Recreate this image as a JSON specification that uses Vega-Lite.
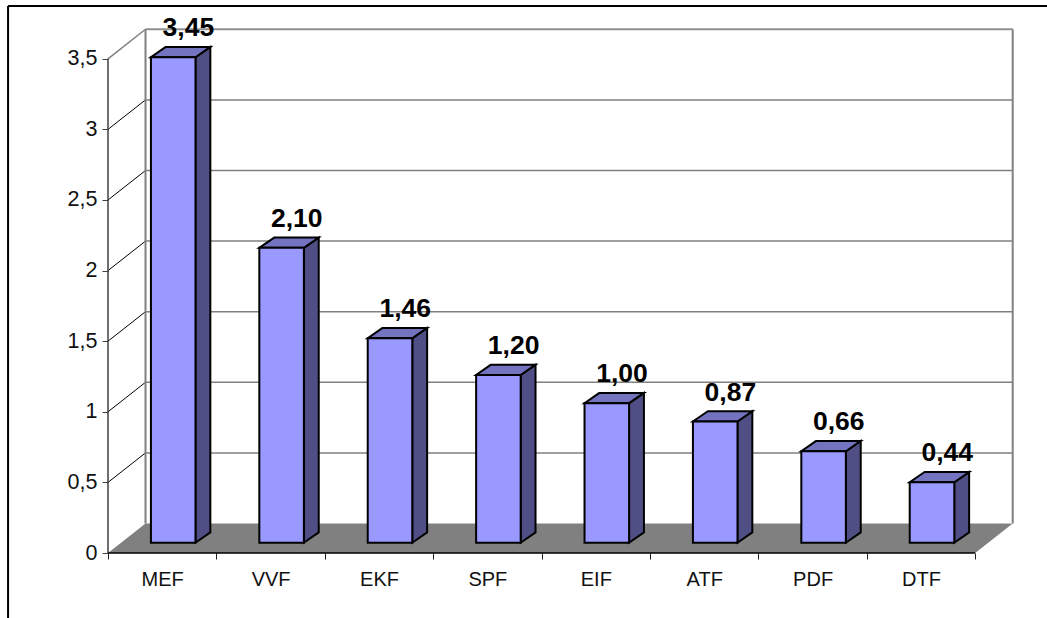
{
"$schema":"https://vega.github.io/schema/vega-lite/v6.json",
"width":1047,"height":618,"padding":0,"autosize":"none","background":"white",
"config":{"view":{"stroke":null},"font":"Liberation Sans","axis":{"title":null,"grid":false}},
"datasets":{
 "ticks":[{"v":0.5},{"v":1},{"v":1.5},{"v":2},{"v":2.5},{"v":3}],
 "bars":[{"cat":"MEF","value":3.45},{"cat":"VVF","value":2.10},{"cat":"EKF","value":1.46},{"cat":"SPF","value":1.20},{"cat":"EIF","value":1.00},{"cat":"ATF","value":0.87},{"cat":"PDF","value":0.66},{"cat":"DTF","value":0.44}]
},
"layer":[
 {"data":{"name":"ticks"},
  "transform":[{"calculate":"datum.v+0.209","as":"yb"},{"calculate":"0.346","as":"xa"},{"calculate":"8.346","as":"xb"}],
  "mark":{"type":"rule","stroke":"#808080","strokeWidth":1.5},
  "encoding":{
   "x":{"field":"xa","type":"quantitative","scale":{"domain":[-0.9963,8.6624],"nice":false,"zero":false},
    "axis":{"orient":"bottom","offset":-65,"title":null,"domain":false,"grid":false,"values":[0,0.5,1,1.5,2,2.5,3,3.5,4,4.5,5,5.5,6,6.5,7,7.5,8],
     "labelExpr":"datum.value%1==0?'':['MEF','VVF','EKF','SPF','EIF','ATF','PDF','DTF'][datum.value-0.5]",
     "tickOpacity":{"expr":"datum.value%1==0?1:0"},"tickSize":6,"tickColor":"#202020","labelFontSize":20,"labelColor":"#111111","labelFont":"Liberation Sans","labelPadding":10,"labelOverlap":false,"labelFlush":false,"labelBound":false}},
   "x2":{"field":"xb"},
   "y":{"field":"yb","type":"quantitative","scale":{"domain":[-0.4603,3.9164],"nice":false,"zero":false},
    "axis":{"orient":"left","offset":-108,"title":null,"domain":false,"grid":false,"values":[0,0.5,1,1.5,2,2.5,3,3.5],
     "labelExpr":"replace(''+datum.value,'.',',')","tickSize":6,"tickColor":"#404040","labelFontSize":21.5,"labelColor":"#111111","labelFont":"Liberation Sans","labelPadding":5,"labelOverlap":false,"labelFlush":false,"labelBound":false}}
  }},
 {"data":{"name":"ticks"},
  "transform":[{"calculate":"datum.v+0.209","as":"yb"},{"calculate":"0","as":"xa"},{"calculate":"0.346","as":"xb"}],
  "mark":{"type":"rule","stroke":"#000000","strokeWidth":1},
  "encoding":{"x":{"field":"xa","type":"quantitative"},"x2":{"field":"xb"},"y":{"field":"v","type":"quantitative"},"y2":{"field":"yb"}}},
 {"data":{"values":[{}]},"mark":{"type":"rule","stroke":"#808080","strokeWidth":2},
  "encoding":{"x":{"datum":0.346},"y":{"datum":0.209},"y2":{"datum":3.709}}},
 {"data":{"values":[{}]},"mark":{"type":"rule","stroke":"#808080","strokeWidth":2},
  "encoding":{"x":{"datum":8.346},"y":{"datum":0.209},"y2":{"datum":3.709}}},
 {"data":{"values":[{}]},"mark":{"type":"rule","stroke":"#909090","strokeWidth":2},
  "encoding":{"x":{"datum":0.346},"x2":{"datum":8.346},"y":{"datum":3.709}}},
 {"data":{"values":[{}]},"mark":{"type":"rule","stroke":"#808080","strokeWidth":1.5},
  "encoding":{"x":{"datum":0},"x2":{"datum":0.346},"y":{"datum":3.5},"y2":{"datum":3.709}}},
 {"data":{"values":[{"t":0},{"t":1}]},
  "transform":[{"calculate":"datum.t*0.346","as":"xl"},{"calculate":"8+datum.t*0.346","as":"xr"},{"calculate":"datum.t*0.209","as":"yy"}],
  "mark":{"type":"area","orient":"horizontal","fill":"#808080"},
  "encoding":{"y":{"field":"yy","type":"quantitative"},"x":{"field":"xl","type":"quantitative","stack":null},"x2":{"field":"xr"}}},
 {"data":{"values":[{}]},"mark":{"type":"rule","stroke":"#404040","strokeWidth":1.5},
  "encoding":{"x":{"datum":0},"y":{"datum":0},"y2":{"datum":3.5}}},
 {"data":{"values":[{}]},"mark":{"type":"rule","stroke":"#000000","strokeWidth":1.5},
  "encoding":{"x":{"datum":0},"x2":{"datum":8},"y":{"datum":0}}},
 {"data":{"values":[{}]},"mark":{"type":"rule","stroke":"#000000","strokeWidth":2},
  "encoding":{"x":{"datum":-0.922},"y":{"datum":3.874},"y2":{"datum":-0.4603}}},
 {"data":{"values":[{}]},"mark":{"type":"rule","stroke":"#000000","strokeWidth":2},
  "encoding":{"x":{"datum":-0.922},"x2":{"datum":8.6624},"y":{"datum":3.874}}},
 {"data":{"name":"bars"},
  "transform":[
   {"window":[{"op":"row_number","as":"n"}]},
   {"calculate":"datum.n-1+0.396","as":"x0"},
   {"calculate":"datum.x0+0.411","as":"x1"},
   {"calculate":"datum.value+0.061","as":"top"},
   {"calculate":"0.073","as":"base"},
   {"calculate":"[0,1]","as":"t"},
   {"flatten":["t"]},
   {"calculate":"datum.x0+datum.t*0.137","as":"xa"},
   {"calculate":"datum.x1+datum.t*0.137","as":"xb"},
   {"calculate":"datum.top+datum.t*0.073","as":"ya"},
   {"calculate":"datum.base+datum.t*0.073","as":"yb"},
   {"calculate":"(datum.x0+datum.x1)/2+0.14","as":"xt"},
   {"calculate":"replace(format(datum.value,'.2f'),'.',',')","as":"lab"}
  ],
  "layer":[
   {"mark":{"type":"area","orient":"vertical","fill":"#4F4F85","stroke":"#000000","strokeWidth":2,"strokeJoin":"miter"},
    "encoding":{"x":{"field":"xb","type":"quantitative"},"y":{"field":"ya","type":"quantitative","stack":null},"y2":{"field":"yb"},"detail":{"field":"cat"}}},
   {"mark":{"type":"area","orient":"horizontal","fill":"#7373BF","stroke":"#000000","strokeWidth":2,"strokeJoin":"miter"},
    "encoding":{"y":{"field":"ya","type":"quantitative"},"x":{"field":"xa","type":"quantitative","stack":null},"x2":{"field":"xb"},"detail":{"field":"cat"}}},
   {"transform":[{"filter":"datum.t==0"}],
    "mark":{"type":"bar","fill":"#9999FF","stroke":"#000000","strokeWidth":2},
    "encoding":{"x":{"field":"x0","type":"quantitative"},"x2":{"field":"x1"},"y":{"field":"top","type":"quantitative"},"y2":{"field":"base"}}},
   {"transform":[{"filter":"datum.t==0"}],
    "mark":{"type":"text","fontWeight":"bold","fontSize":26.5,"font":"Liberation Sans","fill":"#000000","baseline":"alphabetic","align":"center","dy":-21},
    "encoding":{"x":{"field":"xt","type":"quantitative"},"y":{"field":"top","type":"quantitative"},"text":{"field":"lab"}}}
  ]}
]
}
